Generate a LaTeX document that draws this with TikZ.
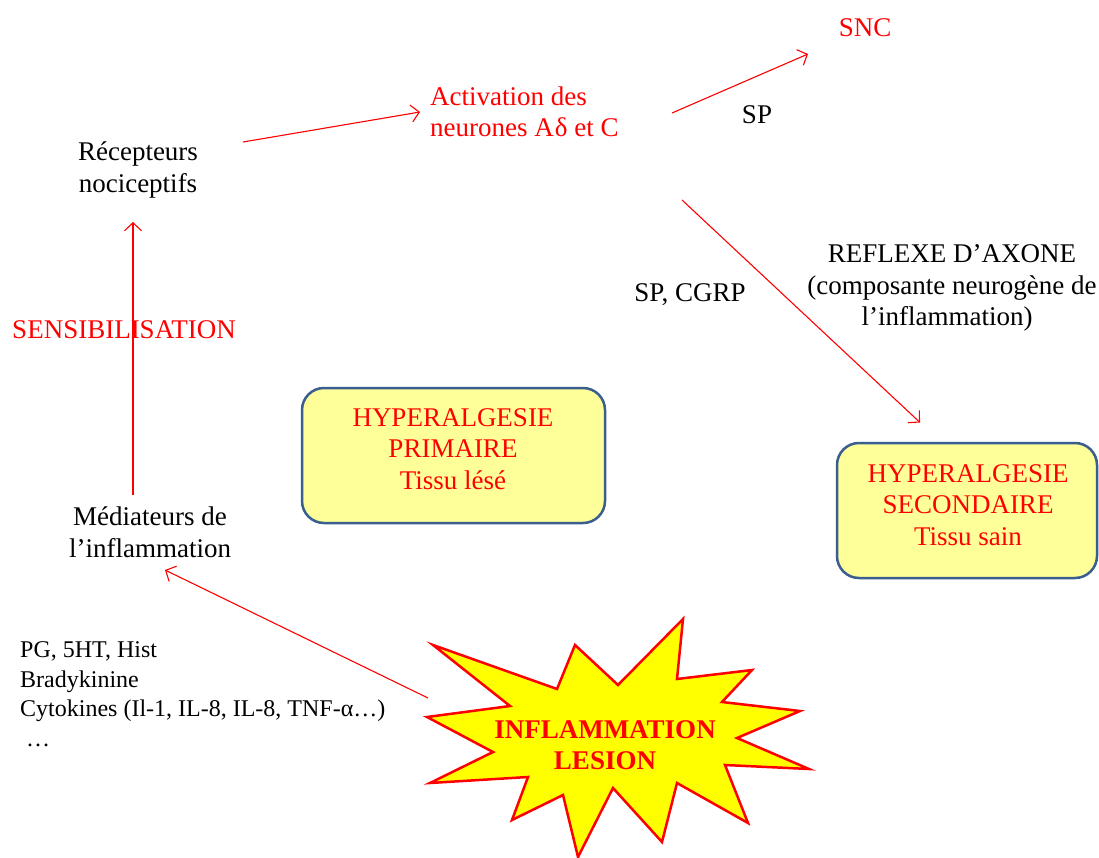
\documentclass[tikz,border=0pt]{standalone}
\usepackage{fontspec}
\setmainfont{Liberation Serif}
\usepackage{tikz}
\usetikzlibrary{arrows.meta,calc}
\definecolor{boxfill}{HTML}{FFFF99}
\definecolor{boxline}{HTML}{3A5F8F}
\definecolor{alarm}{HTML}{FF0000}
\definecolor{burst}{HTML}{FFFF00}
\tikzset{
  lbl/.style={font=\fontsize{27}{31.5}\selectfont, inner sep=0pt},
  redlbl/.style={lbl, text=alarm},
  hbox/.style={draw=boxline, line width=2.5pt, fill=boxfill,
    rounded corners=22pt, minimum height=135pt},
  link/.style={draw=alarm, line width=1.1pt, -{Straight Barb[length=8pt,width=17pt]}}
}

\begin{document}
\begin{tikzpicture}[x=1pt,y=-1pt]
\useasboundingbox (0,0) rectangle (1099,858);
\fill[white] (0,0) rectangle (1099,858);

\node[lbl,align=center] (recep) at (138,170) {Récepteurs\\nociceptifs};
\node[redlbl,align=left,anchor=west] (activ) at (430,112) {Activation des\\neurones A\kern1ptδ et C};
\node[redlbl] (snc) at (865,28) {SNC};
\node[lbl] (sp) at (757,115) {SP};
\node[lbl] (spcgrp) at (690,295) {SP, CGRP};
\node[lbl,align=center] (reflexe) at (952,288)
  {REFLEXE D’AXONE\\(composante neurogène de\\l’inflammation)\hspace*{10pt}};
\node[redlbl] (sensib) at (124,330) {SENSIBILISATION};

\node[hbox,minimum width=303pt] (prim) at (453.5,455.5) {};
\node[redlbl,align=center] (primtxt) at (453,449) {HYPERALGESIE\\PRIMAIRE\\Tissu lésé};
\node[hbox,minimum width=260pt] (sec) at (967,510.5) {};
\node[redlbl,align=center] (sectxt) at (968,505) {HYPERALGESIE\\SECONDAIRE\\Tissu sain};

\node[lbl,align=center] (media) at (150,532) {Médiateurs de\\l’inflammation};
\node[lbl,align=left,anchor=west,font=\fontsize{24}{29.5}\selectfont] (liste) at (20,694)
  {PG, 5HT, Hist\\Bradykinine\\Cytokines (Il-1, IL-8, IL-8, TNF-α…)\\\hspace*{6pt}…};

\filldraw[fill=burst,draw=alarm,line width=2.5pt,line join=miter]
  (433,645) -- (557,689) -- (575,645) -- (618,685) -- (683,619) -- (677,679)
  -- (752,670) -- (722,702) -- (800,711) -- (737,738) -- (809,769) -- (725,765)
  -- (748,823) -- (677,783) -- (662,842) -- (613,788) -- (578,857) -- (563,795)
  -- (512,820) -- (528,777) -- (430,783) -- (493,752) -- (427,717) -- (510,706) -- cycle;
\node[redlbl,align=center,font=\fontsize{27}{31}\selectfont\bfseries] (lesion) at (605,745)
  {INFLAMMATION\\LESION};

\draw[link] ($(recep)+(105,-28)$) -- ($(activ.west)+(-10,0)$);
\draw[link] ($(activ.west)+(242,1)$) -- ($(snc)+(-57,26)$);
\draw[link] ($(activ.west)+(252,88)$) -- ($(sec)+(-47,-88)$);
\draw[link] ($(media)+(-17,-37)$) -- ($(recep)+(-5,52)$);
\draw[link] ($(lesion)+(-177,-47)$) -- ($(media)+(15,38)$);
\end{tikzpicture}
\end{document}
